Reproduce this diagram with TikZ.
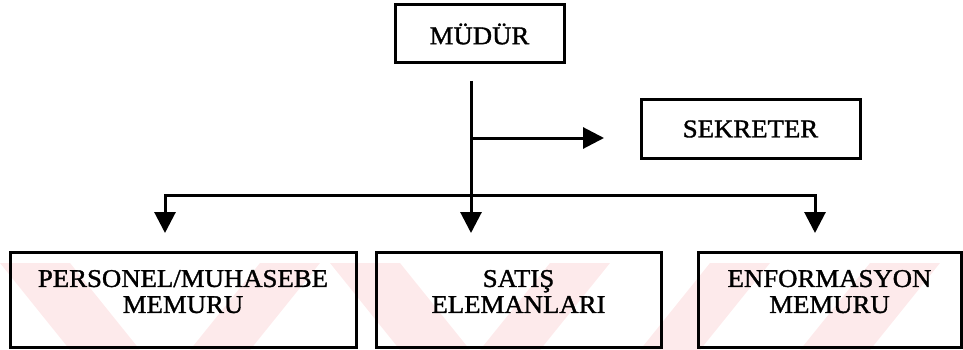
\documentclass[tikz,border=0pt]{standalone}
\usepackage{fontspec}
\setmainfont{Liberation Serif}[FakeStretch=1.05,FakeBold=1.3]
\usetikzlibrary{arrows.meta}

\definecolor{wmpink}{RGB}{253,234,235}

\begin{document}
\begin{tikzpicture}[x=1pt,y=-1pt,line width=3pt,
  unit/.style={draw,rectangle,align=center,inner sep=0pt,font=\fontsize{25.5}{26}\selectfont},
  row/.style={unit,minimum height=95pt,text depth=16pt},
  link/.style={-{Triangle[length=21pt,width=21pt]}}]

\useasboundingbox (0,0) rectangle (963,350);

% faint stripes behind the lower row
\begin{scope}
\clip (0,263) rectangle (963,350);
\fill[wmpink] (0,263) -- (70,263) -- (140,350) -- (70,350) -- cycle;
\fill[wmpink] (190,350) -- (250,350) -- (320,263) -- (260,263) -- cycle;
\fill[wmpink] (330,263) -- (400,263) -- (470,350) -- (400,350) -- cycle;
\fill[wmpink] (480,350) -- (540,350) -- (610,263) -- (550,263) -- cycle;
\fill[wmpink] (640,350) -- (700,350) -- (770,263) -- (710,263) -- cycle;
\fill[wmpink] (800,350) -- (870,350) -- (940,263) -- (870,263) -- cycle;
\end{scope}

\node (Mudur) at (479.5,34) [unit,minimum width=169pt,minimum height=58pt]{MÜDÜR};
\node (Sekreter) at (750.5,129) [unit,minimum width=219pt,minimum height=58pt]{SEKRETER};
\node (Personel) at (183,299.5) [row,minimum width=346pt]{PERSONEL/MUHASEBE\\MEMURU};
\node (Satis) at (518.5,299.5) [row,minimum width=285pt]{SATIŞ\\ELEMANLARI};
\node (Enformasyon) at (829.5,299.5) [row,minimum width=263pt]{ENFORMASYON\\MEMURU};

\coordinate (Trunk) at (471,81);
\coordinate (Branch) at (471,138);
\coordinate (BusMid) at (471,195);
\coordinate (ToSekreter) at (604,138);
\coordinate (ToPersonel) at (165,233);
\coordinate (ToSatis) at (471,233);
\coordinate (ToEnformasyon) at (815,233);

\draw [link] (Trunk) -- (ToSatis);
\draw [link] (Branch) -- (ToSekreter);
\draw [link] (BusMid) -| (ToPersonel);
\draw [link] (BusMid) -| (ToEnformasyon);

\end{tikzpicture}
\end{document}
